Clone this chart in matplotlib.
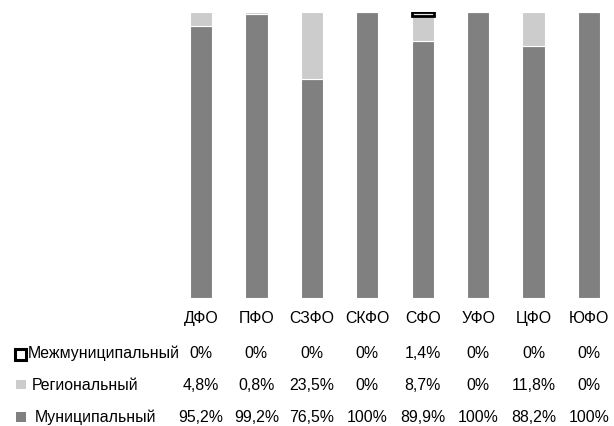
import matplotlib
matplotlib.use("Agg")
import matplotlib.pyplot as plt
from matplotlib.patches import Rectangle
from matplotlib import transforms

categories = ["ДФО", "ПФО", "СЗФО", "СКФО", "СФО", "УФО", "ЦФО", "ЮФО"]
municipal = [95.2, 99.2, 76.5, 100, 89.9, 100, 88.2, 100]
regional = [4.8, 0.8, 23.5, 0, 8.7, 0, 11.8, 0]
intermunicipal = [0, 0, 0, 0, 1.4, 0, 0, 0]
series_names = ["Межмуниципальный", "Региональный", "Муниципальный"]

def fmt(v):
    s = ("%g" % v).replace(".", ",")
    return s + "%"

plt.rcParams['font.family'] = ['Liberation Sans', 'DejaVu Sans']
FS = 11.4

W, H = 614, 426
fig = plt.figure(figsize=(W / 100, H / 100), dpi=100)
ax = fig.add_axes([0, (H - 298) / H, 1, (298 - 12) / H])

x = list(range(len(categories)))
bw = 0.40
ax.bar(x, municipal, width=bw, color="#808080", edgecolor="white", linewidth=0.8)
bottom2 = municipal
ax.bar(x, regional, width=bw, bottom=bottom2, color="#cccccc", edgecolor="white", linewidth=0.8)
bottom3 = [a + b for a, b in zip(municipal, regional)]
for xi, v, b in zip(x, intermunicipal, bottom3):
    if v > 0:
        ax.bar(xi, v, width=bw, bottom=b, color="#e6e6e6", edgecolor="black", linewidth=2.0)

sp = 55.43
ax.set_xlim(-201 / sp, (W - 201) / sp)
ax.set_ylim(0, 100)
for s in ax.spines.values():
    s.set_visible(False)
ax.set_yticks([])
ax.set_xticks(x)
ax.set_xticklabels(categories, fontsize=FS)
ax.tick_params(axis="x", length=0, pad=9.5)

trans = transforms.blended_transform_factory(ax.transData, fig.transFigure)
rows = [intermunicipal, regional, municipal]
row_y = [353, 385, 417]
for vals, py in zip(rows, row_y):
    for xi, v in zip(x, vals):
        fig.text(xi, 1 - py / H, fmt(v), transform=trans, ha="center", va="center", fontsize=FS)

label_x = [28, 32, 35]
for name, py, lx in zip(series_names, row_y, label_x):
    fig.text(lx / W, 1 - py / H, name, ha="left", va="center", fontsize=FS)

# legend markers
fig.add_artist(Rectangle((14.5 / W, 1 - 359.5 / H), 11 / W, 11 / H, transform=fig.transFigure,
                         facecolor="white", edgecolor="black", linewidth=2.2))
fig.add_artist(Rectangle((16 / W, 1 - 389 / H), 10 / W, 9 / H, transform=fig.transFigure,
                         facecolor="#cccccc", edgecolor="none"))
fig.add_artist(Rectangle((16 / W, 1 - 422 / H), 10 / W, 10 / H, transform=fig.transFigure,
                         facecolor="#808080", edgecolor="none"))

fig.savefig("out.png", dpi=100)
